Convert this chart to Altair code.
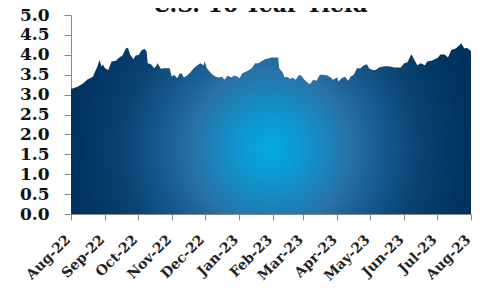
import altair as alt
import pandas as pd

dates = [
    "2022-08-01", "2022-08-07", "2022-08-12", "2022-08-16", "2022-08-21", "2022-08-23",
    "2022-08-25", "2022-08-27", "2022-08-29", "2022-08-30", "2022-09-01", "2022-09-04",
    "2022-09-07", "2022-09-11", "2022-09-14", "2022-09-17", "2022-09-20", "2022-09-22",
    "2022-09-24", "2022-09-27", "2022-09-29", "2022-10-02", "2022-10-04", "2022-10-07",
    "2022-10-09", "2022-10-10", "2022-10-13", "2022-10-16", "2022-10-18", "2022-10-19",
    "2022-10-22", "2022-10-25", "2022-10-30", "2022-11-01", "2022-11-03", "2022-11-06",
    "2022-11-08", "2022-11-10", "2022-11-12", "2022-11-15", "2022-11-18", "2022-11-21",
    "2022-11-24", "2022-11-27", "2022-11-30", "2022-12-01", "2022-12-03", "2022-12-07",
    "2022-12-11", "2022-12-14", "2022-12-17", "2022-12-19", "2022-12-22", "2022-12-25",
    "2022-12-28", "2022-12-31", "2023-01-02", "2023-01-04", "2023-01-07", "2023-01-10",
    "2023-01-13", "2023-01-16", "2023-01-19", "2023-01-22", "2023-01-25", "2023-01-28",
    "2023-01-31", "2023-02-02", "2023-02-06", "2023-02-07", "2023-02-10", "2023-02-12",
    "2023-02-14", "2023-02-17", "2023-02-19", "2023-02-22", "2023-02-25", "2023-02-27",
    "2023-03-02", "2023-03-05", "2023-03-07", "2023-03-10", "2023-03-13", "2023-03-16",
    "2023-03-19", "2023-03-23", "2023-03-26", "2023-03-28", "2023-04-01", "2023-04-02",
    "2023-04-05", "2023-04-08", "2023-04-11", "2023-04-13", "2023-04-16", "2023-04-19",
    "2023-04-22", "2023-04-25", "2023-04-28", "2023-04-30", "2023-05-03", "2023-05-06",
    "2023-05-09", "2023-05-14", "2023-05-18", "2023-05-23", "2023-05-29", "2023-06-01",
    "2023-06-04", "2023-06-07", "2023-06-08", "2023-06-10", "2023-06-13", "2023-06-16",
    "2023-06-20", "2023-06-22", "2023-06-26", "2023-06-29", "2023-07-02", "2023-07-04",
    "2023-07-08", "2023-07-11", "2023-07-14", "2023-07-18", "2023-07-21", "2023-07-23",
    "2023-07-26", "2023-07-28", "2023-07-31", "2023-08-01",
]
yields = [
    3.14, 3.20, 3.28, 3.38, 3.45, 3.58,
    3.70, 3.87, 3.70, 3.76, 3.66, 3.62,
    3.83, 3.85, 3.93, 3.98, 4.16, 4.18,
    4.00, 3.89, 3.98, 4.00, 4.10, 4.15,
    4.08, 3.79, 3.76, 3.66, 3.73, 3.79,
    3.65, 3.66, 3.66, 3.45, 3.50, 3.41,
    3.53, 3.53, 3.43, 3.48, 3.56, 3.66,
    3.73, 3.79, 3.74, 3.84, 3.66, 3.53,
    3.45, 3.43, 3.45, 3.37, 3.48, 3.43,
    3.48, 3.45, 3.41, 3.53, 3.57, 3.61,
    3.66, 3.79, 3.79, 3.84, 3.89, 3.91,
    3.93, 3.93, 3.93, 3.66, 3.57, 3.43,
    3.45, 3.39, 3.43, 3.37, 3.49, 3.48,
    3.37, 3.30, 3.26, 3.37, 3.35, 3.50,
    3.50, 3.48, 3.43, 3.37, 3.43, 3.33,
    3.41, 3.45, 3.35, 3.45, 3.50, 3.66,
    3.66, 3.73, 3.76, 3.66, 3.62, 3.62,
    3.68, 3.71, 3.71, 3.68, 3.68, 3.79,
    3.81, 3.98, 4.00, 3.89, 3.74, 3.79,
    3.74, 3.83, 3.85, 3.89, 3.93, 4.01,
    4.01, 3.93, 4.12, 4.16, 4.23, 4.29,
    4.16, 4.18, 4.12, 4.08,
]
y_ticks = [0.0, 0.5, 1.0, 1.5, 2.0, 2.5, 3.0, 3.5, 4.0, 4.5, 5.0]
title_text = "U.S. 10-Year Yield"

df = pd.DataFrame({"date": dates, "yield": yields})
title_df = pd.DataFrame({"t": [title_text]})

gradient = alt.Gradient(
    gradient="radial",
    x1=0.5, y1=0.55, r1=0,
    x2=0.5, y2=0.55, r2=0.55,
    stops=[
        alt.GradientStop(color="#06a8e2", offset=0),
        alt.GradientStop(color="#0c9ad4", offset=0.12),
        alt.GradientStop(color="#2872a6", offset=0.36),
        alt.GradientStop(color="#1b5f94", offset=0.47),
        alt.GradientStop(color="#0a4272", offset=0.68),
        alt.GradientStop(color="#00335e", offset=0.9),
        alt.GradientStop(color="#00325c", offset=1),
    ],
)

area = (
    alt.Chart(df)
    .mark_area(color=gradient, interpolate="linear")
    .encode(
        x=alt.X(
            "date:T",
            scale=alt.Scale(
                type="utc",
                domain=[
                    alt.DateTime(year=2022, month=8, date=1, utc=True),
                    alt.DateTime(year=2023, month=8, date=1, utc=True),
                ],
                nice=False,
            ),
            axis=alt.Axis(
                title=None,
                tickCount="month",
                labelExpr="utcFormat(datum.value, '%b-%y')",
                labelAngle=315,
                labelAlign="right",
                labelBaseline="alphabetic",
                labelFont="DejaVu Serif",
                labelFontWeight="bold",
                labelFontSize=14,
                labelColor="#222222",
                labelPadding=20,
                tickSize=6,
                tickColor="#888888",
                domainColor="#888888",
                grid=False,
                labelOverlap=False,
                labelFlush=False,
            ),
        ),
        y=alt.Y(
            "yield:Q",
            scale=alt.Scale(domain=[0, 5], nice=False),
            axis=alt.Axis(
                title=None,
                values=y_ticks,
                format=".1f",
                labelFont="DejaVu Serif",
                labelFontWeight="bold",
                labelFontSize=17,
                labelColor="#111111",
                labelPadding=15,
                tickSize=7,
                tickColor="#888888",
                domainColor="#888888",
                grid=False,
                labelOverlap=False,
                labelFlush=False,
            ),
        ),
    )
)

title_mark = (
    alt.Chart(title_df)
    .mark_text(
        font="DejaVu Serif",
        fontWeight="bold",
        fontSize=22,
        color="#111111",
        align="center",
        baseline="alphabetic",
    )
    .encode(text="t:N", x=alt.value(189), y=alt.value(-3))
)

chart = (
    alt.layer(area, title_mark)
    .properties(
        width=400,
        height=199,
        autosize=alt.AutoSizeParams(type="none"),
        padding={"left": 63, "top": 7, "right": 3, "bottom": 72},
    )
    .configure_view(stroke=None)
)

chart.save("out.html", embed_options={"renderer": "svg", "actions": False})
